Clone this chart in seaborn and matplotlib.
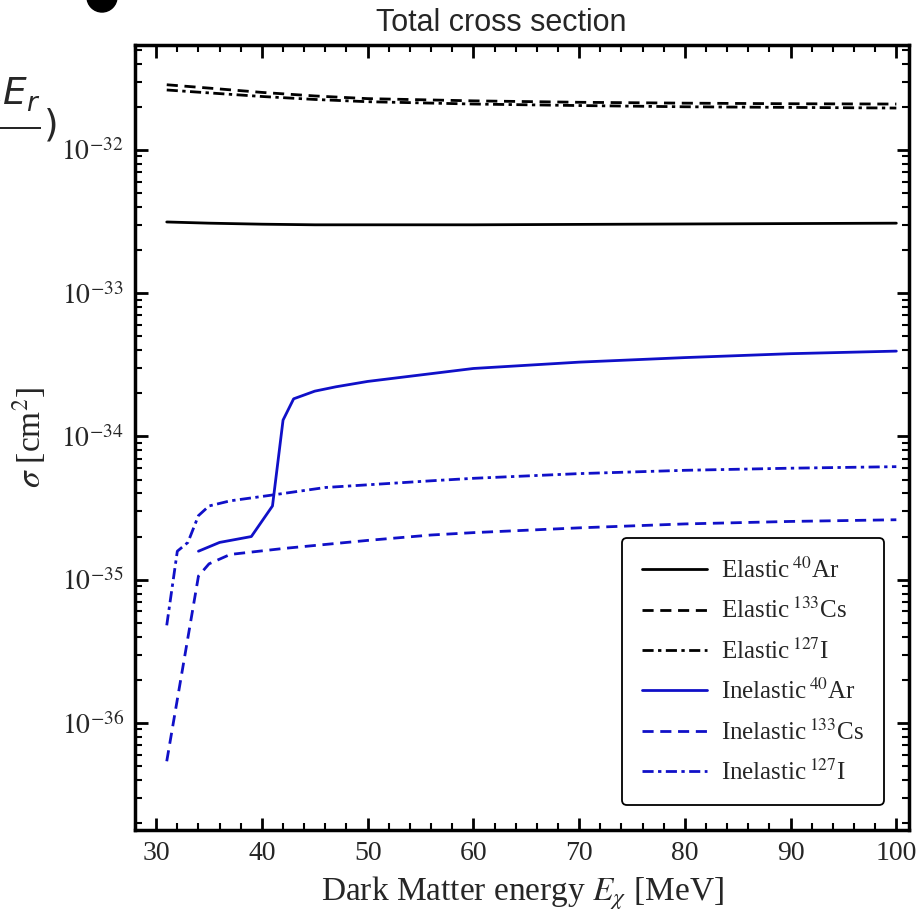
import numpy as np
import pandas as pd
import matplotlib
matplotlib.use("Agg")
import matplotlib.pyplot as plt
import seaborn as sns
from matplotlib.ticker import FixedLocator, MultipleLocator, NullFormatter
from matplotlib.patches import Ellipse

# ---- data ----
x_el = [31, 35, 40, 45, 50, 60, 70, 80, 90, 100]
el_ar = [3.14e-33, 3.08e-33, 3.03e-33, 3.0e-33, 3.0e-33, 3.0e-33, 3.02e-33, 3.04e-33, 3.06e-33, 3.08e-33]
el_cs = [2.85e-32, 2.7e-32, 2.52e-32, 2.38e-32, 2.28e-32, 2.2e-32, 2.15e-32, 2.12e-32, 2.1e-32, 2.09e-32]
el_i = [2.62e-32, 2.5e-32, 2.36e-32, 2.25e-32, 2.17e-32, 2.09e-32, 2.04e-32, 2.0e-32, 1.98e-32, 1.96e-32]

x_in_ar = [34, 36, 39, 41, 42, 43, 45, 47, 50, 60, 70, 80, 90, 100]
in_ar = [1.58e-35, 1.82e-35, 2.0e-35, 3.27e-35, 1.3e-34, 1.83e-34, 2.07e-34, 2.22e-34, 2.42e-34,
         2.98e-34, 3.3e-34, 3.55e-34, 3.78e-34, 3.94e-34]

x_in_cs = [31, 34, 35, 37, 42, 50, 56, 60, 70, 80, 90, 100]
in_cs = [5.4e-37, 1.06e-35, 1.29e-35, 1.5e-35, 1.65e-35, 1.88e-35, 2.05e-35, 2.13e-35,
         2.3e-35, 2.45e-35, 2.55e-35, 2.62e-35]

x_in_i = [31, 32, 33, 34, 35, 37, 41, 46, 56, 60, 70, 80, 90, 100]
in_i = [4.8e-36, 1.58e-35, 1.82e-35, 2.8e-35, 3.27e-35, 3.55e-35, 3.9e-35, 4.4e-35,
        4.9e-35, 5.1e-35, 5.5e-35, 5.8e-35, 6.0e-35, 6.15e-35]

labels = [r"Elastic$\,^{40}$Ar", r"Elastic$\,^{133}$Cs", r"Elastic$\,^{127}$I",
          r"Inelastic$\,^{40}$Ar", r"Inelastic$\,^{133}$Cs", r"Inelastic$\,^{127}$I"]
xticks = [30, 40, 50, 60, 70, 80, 90, 100]
yticks_exp = [-36, -35, -34, -33, -32]

BLUE = "#1010c8"
series = [
    (x_el, el_ar, "black", "-"),
    (x_el, el_cs, "black", (0, (4.0, 2.4))),
    (x_el, el_i, "black", (0, (4.0, 1.6, 1.2, 1.6))),
    (x_in_ar, in_ar, BLUE, "-"),
    (x_in_cs, in_cs, BLUE, (0, (4.0, 2.4))),
    (x_in_i, in_i, BLUE, (0, (4.0, 1.6, 1.2, 1.6))),
]

sns.set_theme(style="white")
plt.rcParams["font.family"] = ["Liberation Serif", "DejaVu Serif"]
plt.rcParams["mathtext.fontset"] = "stix"

fig = plt.figure(figsize=(9.21, 9.18), dpi=100)
ax = fig.add_axes([0.1466, 0.0959, 0.8404, 0.8551])

for (xs, ys, c, ls), lab in zip(series, labels):
    df = pd.DataFrame({"x": xs, "y": ys})
    sns.lineplot(data=df, x="x", y="y", ax=ax, color=c, linestyle=ls, lw=2.0,
                 label=lab, estimator=None, sort=False)

ax.set_yscale("log")
ax.set_xlim(28, 101.2)
ymin, ymax = 1.79e-37, 5.4e-32
ax.set_ylim(ymin, ymax)
ax.set_xticks(xticks)
ax.set_xticklabels([str(t) for t in xticks])
ax.xaxis.set_minor_locator(MultipleLocator(2))
ax.yaxis.set_major_locator(FixedLocator([10.0 ** e for e in yticks_exp]))
ax.set_yticklabels([r"$10^{%d}$" % e for e in yticks_exp])
minors = [m * 10.0 ** e for e in range(-38, -31) for m in range(2, 10)]
minors = [v for v in minors if ymin <= v <= ymax]
ax.yaxis.set_minor_locator(FixedLocator(minors))
ax.yaxis.set_minor_formatter(NullFormatter())

for s in ax.spines.values():
    s.set_linewidth(2.5)
    s.set_color("black")
ax.tick_params(which="both", direction="in", top=True, right=True, left=True,
               bottom=True, color="black", labelsize=20, pad=8)
ax.tick_params(which="major", length=9, width=2)
ax.tick_params(which="minor", length=5, width=1.5)
ax.grid(False)

ax.set_xlabel(r"Dark Matter energy $E_\chi$ [MeV]", fontsize=24, labelpad=6)
ax.set_ylabel(r"$\sigma$ [cm$^2$]", fontsize=24, labelpad=10)
fig.text(501 / 921, 1 - 23 / 918, "Total cross section", fontsize=22,
         family="Liberation Sans", ha="center", va="center")

leg = ax.legend(loc="lower right", fontsize=18, frameon=True, fancybox=True,
                edgecolor="black", framealpha=1, handlelength=2.6, handletextpad=0.55,
                borderaxespad=1.0, labelspacing=0.6, borderpad=0.8)
leg.get_frame().set_linewidth(1.3)

# cropped fragments of the neighbouring panel at the top-left
fig.text(0.061, 0.883, r"$\dfrac{2m_\chi^2 E_r}{\quad})$", fontsize=27, ha="right",
         va="center", math_fontfamily="dejavusans")
fig.add_artist(Ellipse((102 / 921, 1 + 3 / 918), 30 / 921, 30 / 918,
                       transform=fig.transFigure, color="black", clip_on=False))

fig.savefig("out.png", dpi=100)
